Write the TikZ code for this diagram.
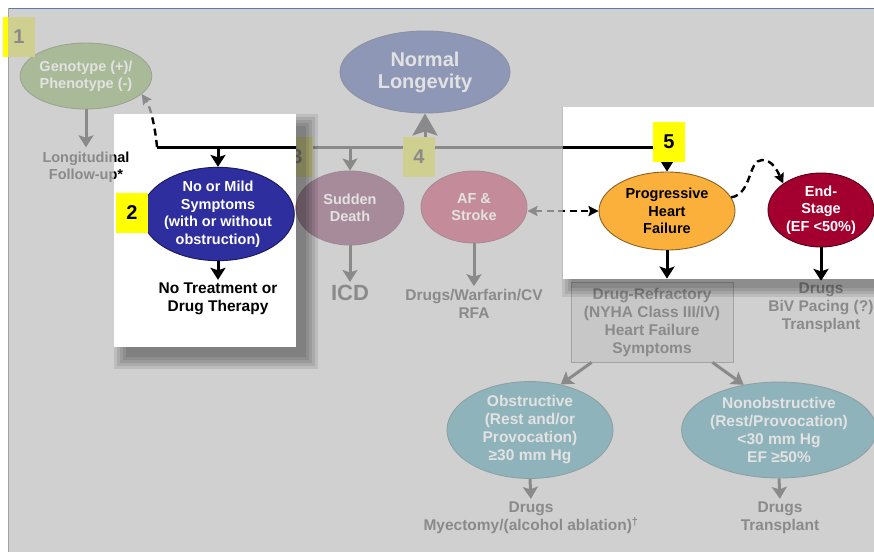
\documentclass[tikz,border=0pt]{standalone}
\usepackage{fontspec}
\setmainfont{Liberation Sans}
\usetikzlibrary{arrows.meta,shapes.geometric}

% faded palette (under the grey veil)
\definecolor{fBg}{HTML}{D0D0D0}
\definecolor{fInk}{HTML}{8A8A8A}
\definecolor{fLight}{HTML}{E2E2E2}
\definecolor{fGeno}{HTML}{A9BA98}
\definecolor{fNormal}{HTML}{8F97B6}
\definecolor{fMild}{HTML}{7E7EB0}
\definecolor{fSudden}{HTML}{A88B9B}
\definecolor{fAF}{HTML}{C48C9A}
\definecolor{fPHF}{HTML}{D6B27A}
\definecolor{fEnd}{HTML}{B07888}
\definecolor{fObs}{HTML}{8FB3BA}
\definecolor{fBox}{HTML}{C7C7C7}
\definecolor{fBoxLine}{HTML}{A3A3A3}
\definecolor{fTag}{HTML}{CFCF8F}
% full-strength palette
\definecolor{vGeno}{HTML}{6E9A4C}
\definecolor{vNormal}{HTML}{44509A}
\definecolor{vMild}{HTML}{2E2E9E}
\definecolor{vSudden}{HTML}{7A2E5A}
\definecolor{vAF}{HTML}{C0395A}
\definecolor{vPHF}{HTML}{FBB03B}
\definecolor{vEnd}{HTML}{A3002F}
\definecolor{vObs}{HTML}{3C8A98}
\definecolor{vTag}{HTML}{FFFF00}
\definecolor{frameTop}{HTML}{5B7BA6}
\definecolor{frameLeft}{HTML}{A0A4A8}

\newcommand{\chartfont}{\fontsize{14.5}{17.5}\selectfont\bfseries}
\newcommand{\lowfont}{\fontsize{15.5}{18}\selectfont\bfseries}
\newcommand{\bigfont}{\fontsize{20}{22}\selectfont\bfseries}
\newcommand{\icdfont}{\fontsize{22}{24}\selectfont\bfseries}
\newcommand{\tagfont}{\fontsize{20}{20}\selectfont\bfseries}

\newcommand{\fadedpalette}{%
  \colorlet{ink}{fInk}\colorlet{inkW}{fLight}\colorlet{cGeno}{fGeno}%
  \colorlet{cNormal}{fNormal}\colorlet{cMild}{fMild}\colorlet{cSudden}{fSudden}%
  \colorlet{cAF}{fAF}\colorlet{cPHF}{fPHF}\colorlet{cEnd}{fEnd}\colorlet{cObs}{fObs}%
  \colorlet{cBox}{fBox}\colorlet{cBoxLine}{fBoxLine}}
\newcommand{\vividpalette}{%
  \colorlet{ink}{black}\colorlet{inkW}{white}\colorlet{cGeno}{vGeno}%
  \colorlet{cNormal}{vNormal}\colorlet{cMild}{vMild}\colorlet{cSudden}{vSudden}%
  \colorlet{cAF}{vAF}\colorlet{cPHF}{vPHF}\colorlet{cEnd}{vEnd}\colorlet{cObs}{vObs}%
  \colorlet{cBox}{white}\colorlet{cBoxLine}{black}}

\tikzset{
  dtip/.tip={Stealth[length=10pt,width=10pt,inset=1.5pt]},
  bubble/.style={ellipse, inner sep=0pt, line width=0.9pt, align=center,
                 font=\chartfont, fill=#1, draw=#1!55!ink},
  caption/.style={align=center, font=\chartfont, text=ink, inner sep=1pt},
  trunk/.style={draw=ink, line width=3pt},
  flow/.style={draw=ink, line width=3pt, -{Stealth[length=12pt,width=15pt,inset=2.5pt]}},
  bigflow/.style={draw=ink, line width=3pt, -{Stealth[length=22pt,width=25pt,inset=4pt]}},
  dashflow/.style={draw=ink, line width=2.4pt, dash pattern=on 7pt off 4.5pt},
  tag/.style={minimum width=32pt, minimum height=40pt, inner sep=0pt, font=\tagfont},
  shade/.style={fill=black, fill opacity=0.09},
}

% the whole chart, drawn with the current palette
\newcommand{\drawchart}{%
  \coordinate (tl) at (157,147);
  \coordinate (tr) at (667,147);
  \node[bubble=cGeno, text=inkW, minimum width=112pt, minimum height=66pt] (geno) at (86,76) {Genotype (+)/\\Phenotype (-)};
  \node[caption] (longit) at (86,167) {Longitudinal\\Follow-up*};
  \node[bubble=cNormal, text=inkW, minimum width=170pt, minimum height=82pt, font=\bigfont] (normal) at (425,72) {Normal\\Longevity};
  \node[bubble=cMild, text=inkW, minimum width=130pt, minimum height=86pt] (mild) at (218,214) {No or Mild\\Symptoms\\(with or without\\obstruction)};
  \node[caption, font=\lowfont] (notreat) at (218,299) {No Treatment or\\Drug Therapy};
  \node[bubble=cSudden, text=inkW, minimum width=108pt, minimum height=74pt] (sudden) at (350,208) {Sudden\\Death};
  \node[caption, font=\icdfont] (icd) at (350,293) {ICD};
  \node[bubble=cAF, text=inkW, minimum width=106pt, minimum height=72pt] (af) at (474,207) {AF \&\\Stroke};
  \node[caption, font=\lowfont] (afrx) at (474,304) {Drugs/Warfarin/CV\\RFA};
  \node[bubble=cPHF, text=ink, minimum width=136pt, minimum height=78pt] (phf) at (667,211) {Progressive\\Heart\\Failure};
  \node[bubble=cEnd, text=inkW, minimum width=106pt, minimum height=74pt] (endst) at (821,210) {End-\\Stage\\(EF <50\%)};
  \node[caption, font=\lowfont] (endrx) at (821,308) {Drugs\\BiV Pacing (?)\\Transplant};
  \node[caption, font=\lowfont, draw=cBoxLine, fill=cBox, line width=0.8pt, minimum width=162pt, minimum height=80pt] (refr) at (652,322) {Drug-Refractory\\(NYHA Class III/IV)\\Heart Failure\\Symptoms};
  \node[bubble=cObs, text=inkW, font=\lowfont, minimum width=166pt, minimum height=96pt] (obs) at (530,430) {Obstructive\\(Rest and/or\\Provocation)\\≥30 mm Hg};
  \node[bubble=cObs, text=inkW, font=\lowfont, minimum width=166pt, minimum height=96pt] (nonobs) at (779,430) {Nonobstructive\\(Rest/Provocation)\\<30 mm Hg\\EF ≥50\%};
  \node[caption, font=\lowfont] (obsrx) at (531,518) {Drugs\\Myectomy/(alcohol ablation)\textsuperscript{†}};
  \node[caption, font=\lowfont] (nonobsrx) at (780,518) {Drugs\\Transplant};
  % connectors
  \draw[trunk] (tl) -- (tr);
  \draw[flow] (tr) -- (phf.north);
  \draw[flow] (mild.north |- tl) -- (mild.north);
  \draw[flow] (sudden.north |- tl) -- (sudden.north);
  \draw[bigflow] (normal.south |- tl) -- (normal.south);
  \draw[flow, shorten >=3pt] (geno.south) -- (longit.north);
  \draw[flow, shorten >=2pt] (mild.south) -- (notreat.north);
  \draw[flow, shorten >=2pt] (sudden.south) -- (icd.north);
  \draw[flow, shorten >=2pt] (af.south) -- (afrx.north);
  \draw[flow, shorten >=3pt] (phf.south) -- (phf.south |- refr.north);
  \draw[flow, shorten >=1pt] (endst.south) -- (endrx.north);
  \draw[flow] ([xshift=21pt]refr.south west) -- (obs.56);
  \draw[flow] ([xshift=-21pt]refr.south east) -- (nonobs.128);
  \draw[flow, shorten >=2pt] (obs.south) -- (obsrx.north);
  \draw[flow, shorten >=2pt] (nonobs.south) -- (nonobsrx.north);
  \draw[dashflow, -dtip] (tl) .. controls (155,125) and (150,106) .. (geno.-18);
  \draw[dashflow, dtip-dtip] (af.east |- phf.west) -- (phf.west);
  \draw[dashflow, -dtip] (phf.12) .. controls (752,194) and (748,160) .. (762,160)
        .. controls (772,160) and (777,170) .. (endst.145);
}

\begin{document}
\begin{tikzpicture}[x=1pt, y=-1pt]
  \useasboundingbox (0,0) rectangle (874,552);
  \fill[white] (0,0) rectangle (874,552);
  % grey veil
  \fill[fBg] (8,8) rectangle (874,552);
  \fadedpalette
  \drawchart
  % faded step tags
  \node[tag, fill=fTag, text=fInk] (t3) at (297,157) {3};
  \node[tag, fill=fTag, text=fInk] (t4) at (419,157) {4};
  % frame of the veil
  \draw[frameTop, line width=1.3pt] (8,8.6) -- (874,8.6);
  \draw[frameLeft, line width=1.3pt] (8.6,8) -- (8.6,552);
  % tag 1 sticks out of the veil
  \fill[fTag] (8,17) rectangle (35,57);
  \fill[vTag] (3,17) rectangle (8,57);
  \node[font=\tagfont, text=fInk] (t1) at (19,37) {1};
  % soft drop shadows of the highlighted panels
  \foreach \s in {0,3,6,9,12} {
    \fill[shade] (126-\s,126-\s) rectangle (306+\s,357+\s);
  }
  \foreach \s in {0,3,6,9} {
    \fill[shade] (571-\s,116-\s) rectangle (882+\s,288+\s);
  }
  % highlighted panel: early course
  \begin{scope}
    \clip (114,114) rectangle (296,347);
    \fill[white] (114,114) rectangle (296,347);
    \vividpalette
    \drawchart
  \end{scope}
  % highlighted panel: heart failure
  \begin{scope}
    \clip (563,107) rectangle (874,279);
    \fill[white] (563,107) rectangle (874,279);
    \vividpalette
    \drawchart
  \end{scope}
  \node[tag, fill=vTag, text=black] (t2) at (132,213) {2};
  \node[tag, fill=vTag, text=black] (t5) at (669,142) {5};
\end{tikzpicture}
\end{document}
